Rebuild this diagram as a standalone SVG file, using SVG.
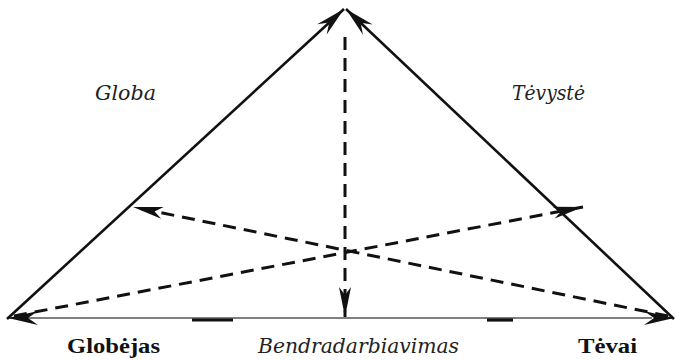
<svg xmlns="http://www.w3.org/2000/svg" width="676" height="360" viewBox="0 0 676 360">
<style>
.solid{stroke:#111;stroke-width:2.6;fill:none}
.dash{stroke:#111;stroke-width:3;fill:none;stroke-dasharray:13 8}
.base{stroke:#555;stroke-width:1.5;fill:none}
.thick{stroke:#111;stroke-width:3.2}
.it{font-family:"DejaVu Serif","Liberation Serif",serif;font-style:italic;font-size:20px;fill:#222}
.bd{font-family:"Liberation Serif","Times New Roman",serif;font-weight:bold;font-size:22px;fill:#111}
</style>
<defs>
<marker id="ah" markerUnits="userSpaceOnUse" viewBox="-32 -8 33 16" refX="0" refY="0" markerWidth="33" markerHeight="16" orient="auto">
<path d="M0,0 L-30,-7 L-20,0 L-30,7 Z" fill="#111"/>
</marker>
<marker id="ahs" markerUnits="userSpaceOnUse" viewBox="-32 -8 33 16" refX="0" refY="0" markerWidth="33" markerHeight="16" orient="auto">
<path d="M0,0 L-30,-6 L-22,0 L-30,6 Z" fill="#111"/>
</marker>
</defs>
<g id="connectors">
<line id="base-line" class="base" x1="28" y1="318" x2="652" y2="318"/>
<line class="base" x1="18" y1="318" x2="8" y2="318" marker-end="url(#ah)"/>
<line class="base" x1="660" y1="318" x2="674" y2="318" marker-end="url(#ah)"/>
<line class="thick" x1="192" y1="320" x2="233" y2="320"/>
<line class="thick" x1="487" y1="320" x2="513" y2="320"/>
<line id="globa-edge" class="solid" x1="7" y1="319" x2="344" y2="9" marker-end="url(#ah)"/>
<line id="tevyste-edge" class="solid" x1="674" y1="319" x2="346" y2="9" marker-end="url(#ah)"/>
<line id="vertical" class="dash" x1="345" y1="37" x2="345" y2="317" marker-end="url(#ahs)"/>
<line id="diag-left" class="dash" x1="668" y1="316" x2="133" y2="207" marker-end="url(#ahs)"/>
<line id="diag-right" class="dash" x1="14" y1="316" x2="583" y2="207" marker-end="url(#ahs)"/>
</g>
<g id="node-globa"><text class="it" x="95" y="100" textLength="61" lengthAdjust="spacingAndGlyphs">Globa</text></g>
<g id="node-tevyste"><text class="it" x="512" y="100" textLength="73" lengthAdjust="spacingAndGlyphs">Tėvystė</text></g>
<g id="node-globejas"><text class="bd" x="67" y="353" textLength="93" lengthAdjust="spacingAndGlyphs">Globėjas</text></g>
<g id="node-bendradarbiavimas"><text class="it" x="258" y="353" textLength="201" lengthAdjust="spacingAndGlyphs">Bendradarbiavimas</text></g>
<g id="node-tevai"><text class="bd" x="578" y="353" textLength="59" lengthAdjust="spacingAndGlyphs">Tėvai</text></g>
</svg>
